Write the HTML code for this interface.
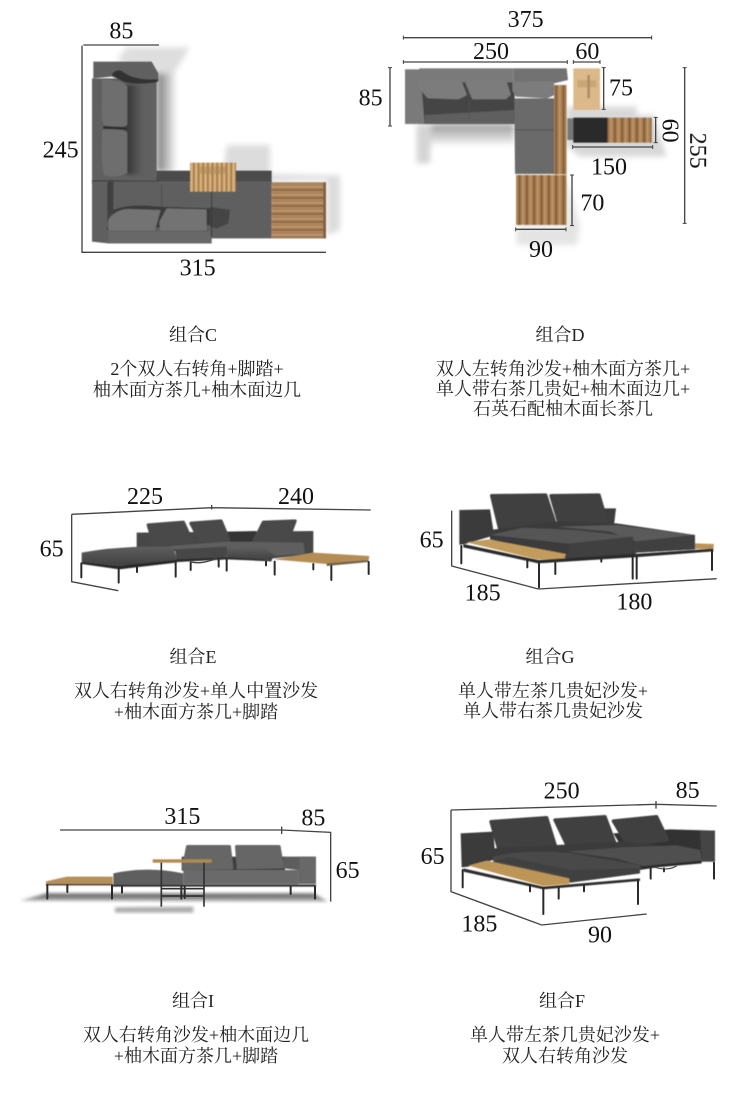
<!DOCTYPE html>
<html lang="zh">
<head>
<meta charset="utf-8">
<title>组合尺寸图</title>
<style>
html,body{margin:0;padding:0;background:#fff;width:750px;height:1119px;overflow:hidden}
svg{display:block}
.dim{font-family:"Liberation Serif",serif;font-size:72px;fill:#111;text-anchor:middle}
.t{font-family:"Liberation Serif","Noto Serif CJK SC",serif;font-size:18px;fill:#222;text-anchor:middle}
.ln{fill:none;stroke:#444;stroke-width:4}
.leg{fill:none;stroke:#2a2a2a;stroke-width:6;stroke-linecap:round}
.r{stroke-linejoin:round;stroke-width:10}
</style>
</head>
<body>
<svg xmlns="http://www.w3.org/2000/svg" width="750" height="1119" viewBox="0 0 750 1119">
<defs>
<filter id="b1" x="-10%" y="-10%" width="120%" height="120%"><feGaussianBlur stdDeviation="1.6"/></filter>
<filter id="b2" x="-30%" y="-30%" width="160%" height="160%"><feGaussianBlur stdDeviation="9"/></filter>
<filter id="b4" x="-30%" y="-30%" width="160%" height="160%"><feGaussianBlur stdDeviation="5"/></filter>
<linearGradient id="shx"><stop offset="0" stop-color="#777"/><stop offset="1" stop-color="#fff"/></linearGradient>
<linearGradient id="shin"><stop offset="0" stop-color="#333"/><stop offset="1" stop-color="#606060"/></linearGradient>
<linearGradient id="shy" x1="0" y1="0" x2="0" y2="1"><stop offset="0" stop-color="#999"/><stop offset="1" stop-color="#eee"/></linearGradient>
<linearGradient id="seat" x1="0" y1="0" x2="0" y2="1"><stop offset="0" stop-color="#5e5e5e"/><stop offset="1" stop-color="#404040"/></linearGradient>
<linearGradient id="fl" x1="0" y1="0" x2="0" y2="1"><stop offset="0" stop-color="#555"/><stop offset="1" stop-color="#bbb"/></linearGradient>
<pattern id="wh" width="40" height="24" patternUnits="userSpaceOnUse">
<rect width="40" height="24" fill="#a47c55"/><rect y="0" width="40" height="5" fill="#c19a70"/><rect y="11" width="40" height="3" fill="#7d5c3e"/><rect y="16" width="40" height="3" fill="#b88f66"/>
</pattern>
<pattern id="wv" width="22" height="40" patternUnits="userSpaceOnUse">
<rect width="22" height="40" fill="#a97f53"/><rect x="0" width="5" height="40" fill="#7e5a38"/><rect x="11" width="4" height="40" fill="#c49a6c"/>
</pattern>
<pattern id="wv2" width="14" height="40" patternUnits="userSpaceOnUse">
<rect width="14" height="40" fill="#c99f67"/><rect x="0" width="3" height="40" fill="#8d6b42"/><rect x="7" width="3" height="40" fill="#e0bd8c"/>
</pattern>
</defs>

<!-- Panel C -->
<g transform="translate(30,10) scale(.33333)">
<g filter="url(#b2)">
<polygon points="262,150 290,112 480,112 432,190 380,205" fill="#dedede"/>
<rect x="380" y="190" width="62" height="295" fill="url(#shx)"/>
<polygon points="590,405 720,405 720,490 580,490" fill="#dcdcdc"/>
<polygon points="620,490 930,497 930,660 890,675 890,510 620,515" fill="#dcdcdc"/>
</g>
<g filter="url(#b1)">
<rect x="378" y="482" width="347" height="36" fill="#4b4b4b"/>
<rect x="186" y="505" width="200" height="14" fill="#444"/>
<polygon points="186,205 380,205 380,512 186,510" fill="#606060"/>
<polygon points="190,155 365,155 385,190 385,215 340,220 300,218 245,200 190,205" fill="#616161"/>
</g>
<rect x="288" y="225" width="50" height="268" fill="url(#shin)" filter="url(#b4)"/>
<g filter="url(#b1)">
<path d="M245,195 Q260,170 285,190 Q320,212 385,208 L380,216 Q320,226 280,215 Z" fill="#333"/>
<path d="M216,208 Q280,210 292,230 L292,345 Q250,358 222,345 Q214,325 216,300 Z" fill="#6e6e6e"/>
<path d="M216,360 Q280,355 292,368 L292,490 Q250,505 222,495 Q214,460 216,420 Z" fill="#6e6e6e"/>
<polygon points="220,348 292,352 292,360 220,356" fill="#2e2e2e"/>
<polygon points="186,515 725,515 725,685 545,685 545,700 235,700 186,695" fill="#5e5e5e"/>
<polygon points="232,515 250,515 250,600 232,640" fill="#404040"/>
<path d="M250,600 Q300,580 380,590 L540,595 L545,645 L230,660 Z" fill="#3a3a3a"/>
<polygon points="540,590 600,600 595,640 560,655 540,650" fill="#444"/>
<path d="M235,628 Q260,595 300,597 L392,600 L375,662 L235,662 Z" fill="#737373"/>
<path d="M388,635 L410,595 L530,598 L530,662 L390,662 Z" fill="#737373"/>
<polygon points="235,665 540,665 545,700 235,700" fill="#686868"/>
<line x1="395" y1="525" x2="395" y2="590" stroke="#444" stroke-width="2"/>
<line x1="545" y1="520" x2="545" y2="680" stroke="#3a3a3a" stroke-width="3"/>
<rect x="725" y="517" width="163" height="168" fill="url(#wh)"/>
<rect x="880" y="517" width="8" height="168" fill="#835f3e"/>
<rect x="480" y="458" width="138" height="87" fill="url(#wv2)"/>
<rect x="510" y="470" width="80" height="22" fill="#a98655" opacity=".5"/>
</g>
<path class="ln" d="M160,105H387M156,107V727H888"/>
<text class="dim" x="274" y="85">85</text>
<text class="dim" x="92" y="443">245</text>
<text class="dim" x="503" y="796">315</text>
</g>

<!-- Panel D -->
<g transform="translate(350,0) scale(.33333)">
<g filter="url(#b2)">
<rect x="225" y="372" width="268" height="60" fill="url(#shy)"/>
<polygon points="200,372 245,372 240,490 200,490" fill="#d4d4d4"/>
<polygon points="650,320 860,320 860,345 910,345 950,470 690,470 650,440" fill="#d8d8d8"/>
<polygon points="650,525 690,680 680,735 500,735 500,680 650,680" fill="#e4e4e4"/>
</g>
<g filter="url(#b1)">
<rect x="205" y="245" width="289" height="127" fill="#454545"/>
<polygon points="165,208 210,208 224,372 165,372" fill="#7a7a7a"/>
<rect x="208" y="205" width="282" height="42" fill="#7a7a7a"/>
<polygon points="490,205 650,205 654,240 612,250 490,245" fill="#727272"/>
<polygon points="225,345 493,330 493,372 225,372" fill="#5e5e5e"/>
<polygon class="r" stroke="#7b7b7b" points="210,245 330,245 345,283 325,293 235,290 210,260" fill="#7b7b7b"/>
<polygon class="r" stroke="#7b7b7b" points="350,245 465,245 477,283 465,293 370,293" fill="#7b7b7b"/>
<polygon class="r" stroke="#7b7b7b" points="492,250 607,248 607,283 590,290 500,285 492,270" fill="#7b7b7b"/>
<polygon points="493,295 612,295 612,522 495,522" fill="#6a6a6a"/>
<line x1="495" y1="390" x2="612" y2="390" stroke="#555" stroke-width="3"/>
<line x1="358" y1="300" x2="358" y2="360" stroke="#555" stroke-width="2"/>
<rect x="612" y="255" width="38" height="268" fill="url(#wv)"/>
<rect x="498" y="525" width="152" height="150" fill="url(#wv)"/>
<rect x="670" y="205" width="80" height="125" fill="#dcb98a"/>
<rect x="712" y="225" width="8" height="70" fill="#8a6f4e" opacity=".6"/>
<rect x="682" y="240" width="58" height="22" fill="#b4925f" opacity=".45"/>
<rect x="670" y="353" width="102" height="75" fill="#2c2c2c"/>
<rect x="652" y="355" width="18" height="65" fill="#777"/>
<rect x="772" y="353" width="133" height="75" fill="url(#wv)"/>
</g>
<path class="ln" d="M160,113H905M160,186H652M670,186H750M120,203V378M761,203V328M917,352V428M668,441H908M1004,203V670M666,525V677M497,688H648"/>
<path d="M160,107v12M905,107v12M160,180v12M652,180v12M670,180v12M750,180v12M114,203h12M114,378h12M755,203h12M755,328h12M911,352h12M911,428h12M668,435v12M908,435v12M998,203h12M998,670h12M660,525h12M660,677h12M497,682v12M648,682v12" stroke="#444" stroke-width="3" fill="none"/>
<text class="dim" x="527" y="81">375</text>
<text class="dim" x="423" y="177">250</text>
<text class="dim" x="712" y="177">60</text>
<text class="dim" x="62" y="316">85</text>
<text class="dim" x="813" y="287">75</text>
<text class="dim" x="777" y="524">150</text>
<text class="dim" x="727" y="631">70</text>
<text class="dim" x="573" y="771">90</text>
<text class="dim" transform="translate(938,392) rotate(90)">60</text>
<text class="dim" transform="translate(1021,452) rotate(90)">255</text>
</g>

<!-- Panel E -->
<g transform="translate(30,480) scale(.33333)">
<g filter="url(#b1)">
<polygon points="320,158 850,153 850,222 730,235 320,205" fill="#474747"/>
<polygon points="590,155 680,153 665,185 600,185" fill="#353535"/>
<polygon class="r" stroke="#4a4a4a" points="355,135 460,127 485,182 372,193" fill="#4a4a4a"/>
<polygon class="r" stroke="#4a4a4a" points="483,130 573,123 595,176 512,186" fill="#4a4a4a"/>
<polygon class="r" stroke="#4a4a4a" points="674,180 700,127 795,123 772,185" fill="#4a4a4a"/>
<polygon points="420,198 590,185 820,188 825,222 730,228 700,208 590,205 440,212" fill="#5e5e5e"/>
<path d="M435,208L590,200L590,238L440,246Z" fill="#474747"/>
<path d="M590,205L700,203L735,226L725,240L590,234Z" fill="url(#seat)"/>
<path d="M155,218Q260,197 430,200L442,245L268,258L155,245Z" fill="url(#seat)"/>
<polygon points="155,245 268,258 440,240 440,248 268,268 155,252" fill="#262626"/>
<polygon points="440,238 590,232 725,240 725,244 590,238 440,246" fill="#2a2a2a"/>
<polygon points="730,238 850,218 1018,228 1016,240 890,252" fill="#b48d55"/>
<polygon points="890,250 1016,240 1016,246 890,258" fill="#70624a"/>
</g>
<path class="leg" d="M154,250V292M266,262V308M321,262V276M437,245V290M482,248V270M566,240V260M590,238V272M734,245V284M708,245V256M850,252V268M904,258V300M1016,246V282"/>
<path d="M480,245Q510,255 560,235" stroke="#444" stroke-width="4" fill="none"/>
<path class="ln" d="M125,103L545,83L1022,90M545,75V88M125,103V305L265,332"/>
<text class="dim" x="345" y="72">225</text>
<text class="dim" x="798" y="72">240</text>
<text class="dim" x="65" y="229">65</text>
</g>

<!-- Panel G -->
<g transform="translate(410,480) scale(.33333)">
<g filter="url(#b1)">
<polygon points="148,90 240,88 250,150 240,170 172,190 148,195" fill="#3a3a3a"/>
<polygon points="575,85 618,85 612,135 575,135" fill="#3c3c3c"/>
<polygon class="r" stroke="#3f3f3f" points="245,47 407,45 435,130 268,143" fill="#3f3f3f"/>
<polygon class="r" stroke="#3f3f3f" points="423,47 567,45 590,125 448,133" fill="#3f3f3f"/>
<polygon points="240,150 440,125 620,130 855,165 855,208 680,218 665,230 470,235 240,178" fill="#3a3a3a"/>
<polygon points="440,140 620,135 855,165 680,185 600,155" fill="#5a5a5a"/>
<polygon points="670,185 855,165 855,208 680,218 670,225" fill="#3f3f3f"/>
<polygon points="240,165 340,143 500,150 670,170 480,192" fill="#555"/>
<polygon points="240,165 480,192 470,225 240,178" fill="#3a3a3a"/>
<polygon points="480,190 670,170 665,225 468,235" fill="#414141"/>
<polygon points="170,187 235,178 468,222 462,238 380,238" fill="#c29c5c"/>
<polygon points="855,190 912,192 910,207 855,207" fill="#b9935a"/>
<polygon points="160,192 385,240 670,222 910,206 910,214 670,232 385,250 160,202" fill="#2a2a2a"/>
</g>
<path class="leg" d="M154,198V250M352,240V262M387,250V322M436,248V282M574,238V245M668,230V296M680,230V296M906,212V270"/>
<path class="ln" d="M125,92V258L385,327L920,296"/>
<text class="dim" x="65" y="203">65</text>
<text class="dim" x="218" y="361">185</text>
<text class="dim" x="673" y="389">180</text>
</g>

<!-- Panel I -->
<g transform="translate(20,790) scale(.33333)">
<polygon points="0,332 80,310 880,310 925,335" fill="url(#fl)" filter="url(#b4)"/>
<polygon points="285,352 520,350 520,368 285,368" fill="#aaa" filter="url(#b4)"/>
<g filter="url(#b1)">
<rect x="485" y="200" width="310" height="42" fill="#3e3e3e"/>
<polygon class="r" stroke="#666" points="503,170 628,170 635,233 490,235" fill="#666"/>
<polygon class="r" stroke="#666" points="650,170 777,170 787,230 655,233" fill="#666"/>
<polygon points="790,200 888,200 888,282 835,282 835,240 790,235" fill="#5d5d5d"/>
<polygon points="838,200 888,200 888,282 838,282" fill="#676767"/>
<path d="M280,250Q380,228 490,250L490,284H280Z" fill="#5e5e5e"/>
<polygon points="490,240 835,240 835,283 490,283" fill="#6a6a6a"/>
<polygon points="278,284 888,284 888,290 278,290" fill="#262626"/>
<polygon points="78,274 140,260 278,260 278,282 78,282" fill="#b68f5a"/>
<polygon points="78,282 278,282 278,286 78,286" fill="#333"/>
<rect x="398" y="208" width="177" height="10" fill="#b08a50"/>
</g>
<path class="leg" d="M82,285V326M142,285V306M276,286V326M306,290V308M484,290V326M494,290V324M812,290V312M885,290V326"/>
<path d="M424,218V350M552,218V350M424,296H552M424,318H552" stroke="#333" stroke-width="5" fill="none"/>
<path class="ln" d="M120,120H785L932,127V335M785,110V132"/>
<text class="dim" x="487" y="102">315</text>
<text class="dim" x="880" y="107">85</text>
<text class="dim" x="983" y="264">65</text>
</g>

<!-- Panel F -->
<g transform="translate(410,770) scale(.33333)">
<g filter="url(#b1)">
<polygon points="152,190 250,185 255,250 250,270 175,290 155,292" fill="#3a3a3a"/>
<polygon points="610,190 780,178 915,182 915,275 875,275 875,240 640,240" fill="#333"/>
<polygon points="870,182 915,182 915,275 875,275" fill="#444"/>
<polygon class="r" stroke="#404040" points="243,155 410,143 437,230 268,243" fill="#404040"/>
<polygon class="r" stroke="#404040" points="435,150 585,140 615,220 473,230" fill="#404040"/>
<polygon class="r" stroke="#404040" points="610,153 740,140 773,210 652,223" fill="#404040"/>
<polygon points="250,235 640,215 875,240 875,272 690,300 480,338 250,285" fill="#3a3a3a"/>
<polygon points="470,245 640,232 800,226 870,240 875,272 700,288 620,265" fill="#4f4f4f"/>
<polygon points="690,290 875,272 875,280 700,296" fill="#2a2a2a"/>
<path d="M250,260Q350,236 480,250L690,285L690,310L480,338L475,320Q300,290 250,280Z" fill="#4a4a4a"/>
<polygon points="250,272 475,318 480,338 690,310 690,295 480,300 300,262" fill="#404040"/>
<polygon points="175,287 230,272 478,325 478,342 400,348" fill="#bd9556"/>
<polygon points="160,295 400,350 690,325 690,333 400,358 160,305" fill="#2a2a2a"/>
</g>
<path class="leg" d="M158,300V352M360,345V364M400,355V432M446,352V386M522,345V364M684,330V402M722,295V326M762,295V304M912,278V326"/>
<path d="M735,292Q770,304 800,288" stroke="#444" stroke-width="3" fill="none"/>
<path class="ln" d="M123,120L738,103L920,108M738,93V116M123,120V365L395,465L710,432"/>
<text class="dim" x="455" y="86">250</text>
<text class="dim" x="833" y="84">85</text>
<text class="dim" x="68" y="282">65</text>
<text class="dim" x="208" y="484">185</text>
<text class="dim" x="570" y="517">90</text>
</g>

<!-- Captions -->
<text class="t" x="193" y="341">组合C</text>
<text class="t" x="197" y="375">2个双人右转角+脚踏+</text>
<text class="t" x="197" y="396">柚木面方茶几+柚木面边几</text>

<text class="t" x="560" y="341">组合D</text>
<text class="t" x="563" y="375">双人左转角沙发+柚木面方茶几+</text>
<text class="t" x="563" y="395">单人带右茶几贵妃+柚木面边几+</text>
<text class="t" x="563" y="415">石英石配柚木面长茶几</text>

<text class="t" x="193" y="663">组合E</text>
<text class="t" x="196" y="697">双人右转角沙发+单人中置沙发</text>
<text class="t" x="196" y="718">+柚木面方茶几+脚踏</text>

<text class="t" x="550" y="663">组合G</text>
<text class="t" x="553" y="697">单人带左茶几贵妃沙发+</text>
<text class="t" x="553" y="717">单人带右茶几贵妃沙发</text>

<text class="t" x="193" y="1007">组合I</text>
<text class="t" x="196" y="1041">双人右转角沙发+柚木面边几</text>
<text class="t" x="196" y="1062">+柚木面方茶几+脚踏</text>

<text class="t" x="562" y="1007">组合F</text>
<text class="t" x="565" y="1041">单人带左茶几贵妃沙发+</text>
<text class="t" x="565" y="1062">双人右转角沙发</text>
</svg>
</body>
</html>
